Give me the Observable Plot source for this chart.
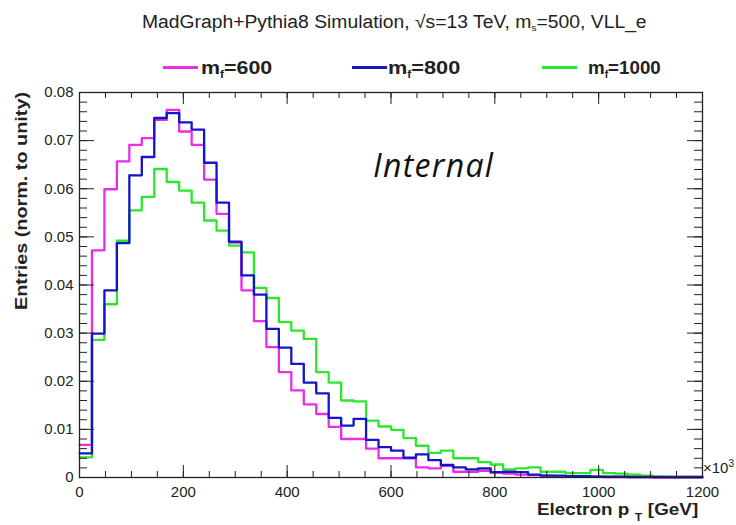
<!DOCTYPE html>
<html>
<head>
<meta charset="utf-8">
<script src="https://cdn.jsdelivr.net/npm/d3@7"></script>
<script src="https://cdn.jsdelivr.net/npm/@observablehq/plot@0.6"></script>
<style>
  body { margin: 0; background: #fff; }
  #wrap { position: relative; width: 736px; height: 525px; overflow: hidden;
          font-family: "Liberation Sans", Arial, Helvetica, sans-serif; color: #222; background: #fff; }
  .abs { position: absolute; white-space: nowrap; }
  #title { left: 142px; top: 13px; font-size: 18px; line-height: 18px; transform-origin: 0 0; }
  .leg { top: 58px; font-weight: bold; font-size: 19px; line-height: 19px; transform-origin: 0 0; }
  .sw { position: absolute; height: 3px; top: 66px; width: 35px; }
  .sub { font-size: 0.55em; position: relative; top: 0.35em; }
  #chart { position: absolute; left: 0; top: 80px; }
  #ylab { left: 13px; font-weight: bold; font-size: 17px; line-height: 17px; transform-origin: 0 0; }
  #xlab { top: 501px; font-weight: bold; font-size: 17px; line-height: 17px; transform-origin: 100% 0; }
  #x10 { left: 703px; top: 460px; font-size: 15px; line-height: 15px; }
  #internal { left: 373px; top: 149px; font-family: "Open Sans", sans-serif; font-style: italic; font-size: 32px; line-height: 32px; letter-spacing: 1.3px; color: #111; }
</style>
</head>
<body>
<div id="wrap">
  <div id="title" class="abs">MadGraph+Pythia8 Simulation, √s=13 TeV, m<span class="sub">s</span>=500, VLL_e</div>
  <div id="legend"></div>
  <div id="chart"></div>
  <div id="internal" class="abs">Internal</div>
  <div id="ylab" class="abs">Entries (norm. to unity)</div>
  <div id="xlab" class="abs">Electron p<span style="font-size:11px;position:relative;top:6px;margin-left:5px;margin-right:5px">T</span>[GeV]</div>
  <div id="x10" class="abs">×10<span style="font-size:10px;position:relative;top:-6px">3</span></div>
</div>
<script>
// ---- data ----
const binWidth = 24;                       // GeV per bin (0 .. 1200, 50 bins)
const binLow = d3.range(0, 1200, binWidth);

const mf600 = [
  0.0068, 0.0472, 0.0599, 0.0657, 0.0691, 0.0705, 0.0743, 0.0764, 0.0719, 0.0691,
  0.0619, 0.0548, 0.0488, 0.0389, 0.0325, 0.0271, 0.0219, 0.0181, 0.0152, 0.0132,
  0.0105, 0.0080, 0.0080, 0.0060, 0.0040, 0.0040, 0.0040, 0.0021, 0.0019, 0.0024,
  0.0012, 0.0012, 0.0014, 0.0010, 0.0008, 0.0006, 0.0005, 0.0004, 0.0003, 0.0003,
  0.0002, 0.0002, 0.0001, 0.0001, 0.0001, 0.0001, 0.0000, 0.0000, 0.0000, 0.0000
];
const mf800 = [
  0.0050, 0.0299, 0.0389, 0.0487, 0.0628, 0.0666, 0.0747, 0.0757, 0.0738, 0.0723,
  0.0654, 0.0571, 0.0490, 0.0420, 0.0380, 0.0309, 0.0270, 0.0236, 0.0197, 0.0175,
  0.0124, 0.0108, 0.0122, 0.0078, 0.0063, 0.0056, 0.0041, 0.0048, 0.0036, 0.0026,
  0.0021, 0.0017, 0.0019, 0.0011, 0.0012, 0.0011, 0.0006, 0.0004, 0.0004, 0.0003,
  0.0003, 0.0002, 0.0002, 0.0002, 0.0001, 0.0001, 0.0001, 0.0001, 0.0001, 0.0001
];
const mf1000 = [
  0.0042, 0.0286, 0.0360, 0.0492, 0.0555, 0.0583, 0.0641, 0.0614, 0.0596, 0.0571,
  0.0534, 0.0513, 0.0482, 0.0468, 0.0394, 0.0373, 0.0323, 0.0305, 0.0288, 0.0219,
  0.0197, 0.0160, 0.0158, 0.0118, 0.0106, 0.0099, 0.0082, 0.0066, 0.0051, 0.0056,
  0.0040, 0.0040, 0.0032, 0.0027, 0.0017, 0.0019, 0.0021, 0.0012, 0.0012, 0.0009,
  0.0009, 0.0016, 0.0009, 0.0008, 0.0006, 0.0004, 0.0002, 0.0001, 0.0001, 0.0001
];
const seriesMass = ["600", "800", "1000"];
const seriesColors = ["#e82ce8", "#1414c8", "#2ce82c"];
const xTicks = [0, 200, 400, 600, 800, 1000, 1200];
const yTicks = [0, 0.01, 0.02, 0.03, 0.04, 0.05, 0.06, 0.07, 0.08];

// ---- layout ----
const W = 736, H = 445, mL = 79, mR = 34, mT = 12, mB = 48;
const pw = W - mL - mR, ph = H - mT - mB;
const xMinor = d3.range(0, 1201, 50);
const yMinor = d3.range(0, 41).map(i => i * 0.002);

function steps(vals) {
  const pts = vals.map((v, i) => ({x: binLow[i], y: v}));
  pts.push({x: binLow[binLow.length - 1] + binWidth, y: vals[vals.length - 1]});
  return pts;
}
const series = [mf600, mf800, mf1000];
const drawOrder = [0, 2, 1];

const chart = Plot.plot({
  width: W, height: H,
  marginLeft: mL, marginRight: mR, marginTop: mT, marginBottom: mB,
  x: {domain: [0, 1200]},
  y: {domain: [0, 0.08]},
  style: {fontFamily: "Liberation Sans, Arial, sans-serif", fontSize: "15px", color: "#222", background: "white", overflow: "visible"},
  marks: [
    ...drawOrder.map(i => Plot.line(steps(series[i]), {x: "x", y: "y", curve: "step-after", stroke: seriesColors[i], strokeWidth: 2.3})),
    Plot.frame({stroke: "#222", strokeWidth: 1.3}),
    Plot.tickY(yTicks, {y: d => d, insetRight: pw - 15, stroke: "#222"}),
    Plot.tickY(yMinor, {y: d => d, insetRight: pw - 8, stroke: "#222"}),
    Plot.tickY(yTicks, {y: d => d, insetLeft: pw - 15, stroke: "#222"}),
    Plot.tickY(yMinor, {y: d => d, insetLeft: pw - 8, stroke: "#222"}),
    Plot.tickX(xTicks, {x: d => d, insetTop: ph - 12, stroke: "#222"}),
    Plot.tickX(xMinor, {x: d => d, insetTop: ph - 6, stroke: "#222"}),
    Plot.tickX(xTicks, {x: d => d, insetBottom: ph - 12, stroke: "#222"}),
    Plot.tickX(xMinor, {x: d => d, insetBottom: ph - 6, stroke: "#222"}),
    Plot.axisY(yTicks, {tickSize: 0, tickPadding: 6, tickFormat: d => d === 0 ? "0" : d3.format(".2f")(d), label: null}),
    Plot.axisX(xTicks, {tickSize: 0, tickPadding: 9, tickFormat: d => String(d), label: null})
  ]
});
document.getElementById("chart").appendChild(chart);

// ---- legend ----
const legend = document.getElementById("legend");
const swX = [163, 352, 542];
const txX = [201, 388, 588];
const txW = [71, 72, 73];
seriesMass.forEach((m, i) => {
  const sw = document.createElement("div");
  sw.className = "sw";
  sw.style.left = swX[i] + "px";
  sw.style.background = seriesColors[i];
  legend.appendChild(sw);
  const t = document.createElement("div");
  t.className = "abs leg";
  t.style.left = txX[i] + "px";
  t.innerHTML = `m<span class="sub">f</span>=${m}`;
  legend.appendChild(t);
  t.style.transform = `scaleX(${txW[i] / t.offsetWidth})`;
});

// fit title width and place axis titles
const title = document.getElementById("title");
title.style.transform = `scaleX(${505 / title.offsetWidth})`;
const ylab = document.getElementById("ylab");
ylab.style.top = (92 + 218) + "px";
ylab.style.transform = `rotate(-90deg) scaleX(${218 / ylab.offsetWidth})`;
const xlab = document.getElementById("xlab");
xlab.style.left = (698 - xlab.offsetWidth) + "px";
xlab.style.transform = `scaleX(${161 / xlab.offsetWidth})`;
</script>
</body>
</html>
